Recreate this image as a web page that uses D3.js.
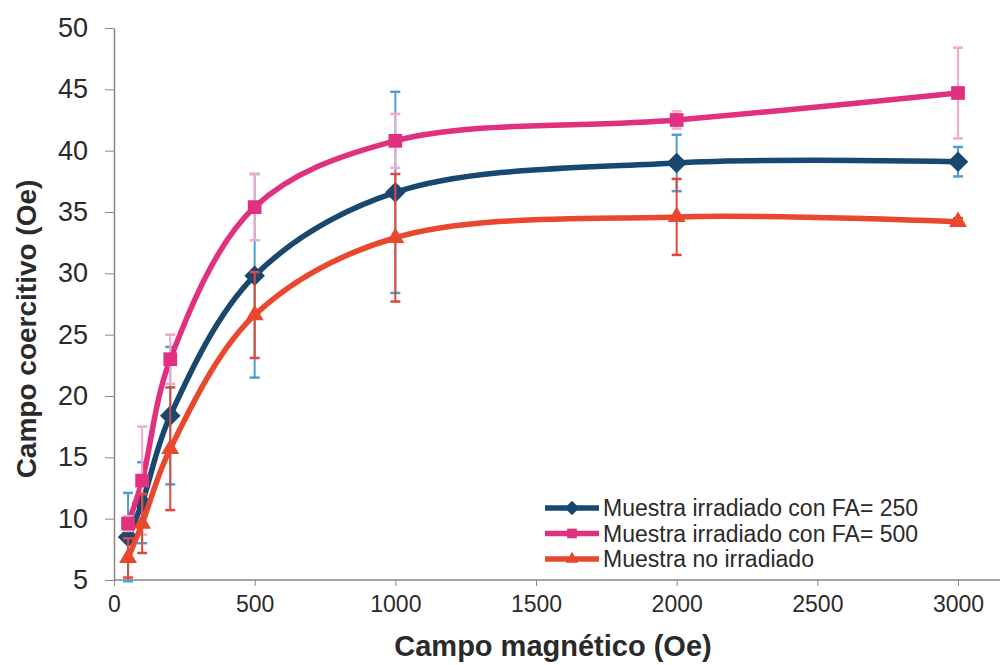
<!DOCTYPE html>
<html>
<head>
<meta charset="utf-8">
<script src="https://cdn.jsdelivr.net/npm/d3@7"></script>
<style>
body { margin: 0; background: #fff; }
svg { font-family: "Liberation Sans", Arial, sans-serif; }
</style>
</head>
<body>
<svg id="chart"></svg>
<script>
var width = 1005;
var height = 665;

// datos
var campo = [50, 100, 200, 500, 1000, 2000, 3000];
var fa250 = [8.5, 11.3, 18.4, 29.8, 36.6, 39.0, 39.1];
var fa250Err = [3.6, 3.3, 5.6, 8.3, 8.2, 2.3, 1.2];
var fa500 = [9.6, 13.1, 23.0, 35.4, 40.8, 42.5, 44.7];
var fa500Err = [0.6, 4.4, 2.0, 2.7, 2.2, 0.7, 3.7];
var noIrr = [6.8, 9.6, 15.7, 26.6, 32.9, 34.6, 34.2];
var noIrrErr = [1.6, 2.4, 5.0, 3.5, 5.2, 3.1, 0.3];
var xTicks = [0, 500, 1000, 1500, 2000, 2500, 3000];
var yTicks = [5, 10, 15, 20, 25, 30, 35, 40, 45, 50];
var seriesNames = ["Muestra irradiado con FA= 250", "Muestra irradiado con FA= 500", "Muestra no irradiado"];

var series = [
	{name: seriesNames[0], values: fa250, err: fa250Err, color: "#18476f", errColor: "#4c9fd3", symbol: d3.symbolDiamond2, size: 270},
	{name: seriesNames[1], values: fa500, err: fa500Err, color: "#e0307f", errColor: "#f3a9c9", symbol: d3.symbolSquare2, size: 240},
	{name: seriesNames[2], values: noIrr, err: noIrrErr, color: "#e8482d", errColor: "#e0483a", symbol: d3.symbolTriangle2, size: 230}
];

var svg = d3.select("#chart")
	.attr("width", width)
	.attr("height", height);

var x = d3.scaleLinear().domain([0, 3000]).range([114, 958]);
var y = d3.scaleLinear().domain([5, 50]).range([580, 28]);

// ejes
var xAxis = svg.append("g")
	.attr("transform", "translate(0," + y(5) + ")")
	.call(d3.axisBottom(x).tickValues(xTicks).tickFormat(d3.format("d")).tickSize(6).tickPadding(10).tickSizeOuter(0));
xAxis.select(".domain").attr("d", "M" + x(0) + ",0H1000");
xAxis.selectAll("line").attr("stroke", "#888");
xAxis.select(".domain").attr("stroke", "#888").attr("stroke-width", 1.5);
xAxis.selectAll("text").attr("font-size", "23px").attr("fill", "#2a2a2a").attr("font-family", "Liberation Sans, Arial");

var yAxis = svg.append("g")
	.attr("transform", "translate(" + x(0) + ",0)")
	.call(d3.axisLeft(y).tickValues(yTicks).tickSize(9).tickPadding(17).tickSizeOuter(0));
yAxis.selectAll("line").attr("stroke", "#888");
yAxis.select(".domain").attr("stroke", "#888").attr("stroke-width", 1.5);
yAxis.selectAll("text").attr("font-size", "27px").attr("fill", "#2a2a2a").attr("font-family", "Liberation Sans, Arial");

// titulos
svg.append("text")
	.attr("x", 553)
	.attr("y", 656)
	.attr("text-anchor", "middle")
	.attr("font-size", "29px")
	.attr("font-weight", "bold")
	.attr("fill", "#2a2a2a")
	.text("Campo magnético (Oe)");

svg.append("text")
	.attr("transform", "translate(36,329) rotate(-90)")
	.attr("text-anchor", "middle")
	.attr("font-size", "28px")
	.attr("font-weight", "bold")
	.attr("fill", "#2a2a2a")
	.text("Campo coercitivo (Oe)");

var line = d3.line()
	.x(function(d, i) { return x(campo[i]); })
	.y(function(d) { return y(d); })
	.curve(d3.curveCatmullRom.alpha(0.5));

// series: linea, barras de error, marcadores
series.forEach(function(s) {
	var g = svg.append("g");
	g.append("path")
		.datum(s.values)
		.attr("fill", "none")
		.attr("stroke", s.color)
		.attr("stroke-width", 5.5)
		.attr("d", line);

	var eb = g.selectAll(".err")
		.data(s.values)
		.join("g")
		.attr("class", "err");
	eb.append("line")
		.attr("x1", function(d, i) { return x(campo[i]); })
		.attr("x2", function(d, i) { return x(campo[i]); })
		.attr("y1", function(d, i) { return y(d + s.err[i]); })
		.attr("y2", function(d, i) { return y(d - s.err[i]); })
		.attr("stroke", s.errColor)
		.attr("stroke-width", 2);
	[1, -1].forEach(function(sign) {
		eb.append("line")
			.attr("x1", function(d, i) { return x(campo[i]) - 5; })
			.attr("x2", function(d, i) { return x(campo[i]) + 5; })
			.attr("y1", function(d, i) { return y(d + sign * s.err[i]); })
			.attr("y2", function(d, i) { return y(d + sign * s.err[i]); })
			.attr("stroke", s.errColor)
			.attr("stroke-width", 2.5);
	});

	g.selectAll(".mk")
		.data(s.values)
		.join("path")
		.attr("class", "mk")
		.attr("d", d3.symbol().type(s.symbol).size(s.size))
		.attr("transform", function(d, i) { return "translate(" + x(campo[i]) + "," + y(d) + ")"; })
		.attr("fill", s.color);
});

// leyenda
var legend = svg.append("g").attr("transform", "translate(545,508)");
series.forEach(function(s, i) {
	var row = legend.append("g").attr("transform", "translate(0," + (i * 25.5) + ")");
	row.append("line")
		.attr("x1", 0).attr("x2", 54)
		.attr("stroke", s.color)
		.attr("stroke-width", 5.5);
	row.append("path")
		.attr("d", d3.symbol().type(s.symbol).size(s.size * 0.5))
		.attr("transform", "translate(27,0)")
		.attr("fill", s.color);
	row.append("text")
		.attr("x", 58)
		.attr("y", 8)
		.attr("font-size", "23px")
		.attr("fill", "#2a2a2a")
		.text(s.name);
});
</script>
</body>
</html>
